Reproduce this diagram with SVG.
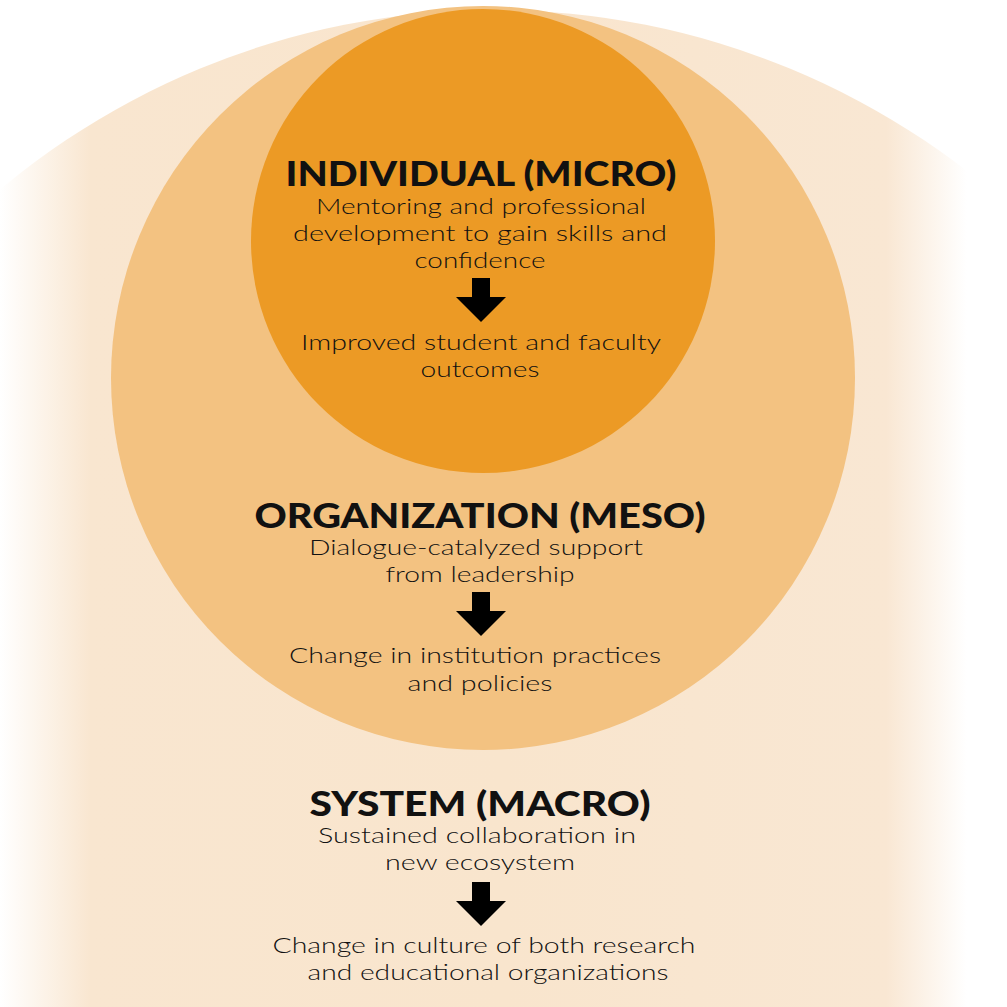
<svg xmlns="http://www.w3.org/2000/svg" width="1007" height="1007" viewBox="0 0 1007 1007">
<defs>
<linearGradient id="fade" gradientUnits="userSpaceOnUse" x1="0" y1="0" x2="1007" y2="0">
<stop offset="0" stop-color="#ffffff"/>
<stop offset="0.09" stop-color="#f9e6d0"/>
<stop offset="0.5" stop-color="#f9e5cd"/>
<stop offset="0.88" stop-color="#f9e7d3"/>
<stop offset="0.96" stop-color="#ffffff"/>
</linearGradient>
<path id="arrow" d="M-9,0 H9 V19 H25 L0,44 L-25,19 H-9 Z" fill="#000"/>
<style>
.t{font-family:"Lato","Liberation Sans",sans-serif;font-weight:900;font-size:35px;fill:#111;text-anchor:middle}
.b{font-family:"Lato","Liberation Sans",sans-serif;font-weight:300;font-size:22px;fill:#111;text-anchor:middle}
</style>
</defs>
<rect width="1007" height="1007" fill="#ffffff"/>
<g id="system">
<circle cx="495" cy="782" r="772" fill="url(#fade)"/>
</g>
<g id="organization">
<circle cx="483" cy="378" r="372" fill="#f3c281"/>
</g>
<g id="individual">
<circle cx="483" cy="241" r="232" fill="#ec9a25"/>
</g>
<g id="connectors">
<use href="#arrow" x="481" y="278"/>
<use href="#arrow" x="481" y="592"/>
<use href="#arrow" x="481" y="882"/>
</g>
<g id="individual-text">
<text class="t" x="481" y="186" textLength="391" lengthAdjust="spacingAndGlyphs">INDIVIDUAL (MICRO)</text>
<text class="b" x="481" y="214" textLength="330" lengthAdjust="spacingAndGlyphs">Mentoring and professional</text>
<text class="b" x="480" y="241" textLength="374" lengthAdjust="spacingAndGlyphs">development to gain skills and</text>
<text class="b" x="480" y="268" textLength="131" lengthAdjust="spacingAndGlyphs">confidence</text>
<text class="b" x="481" y="350" textLength="360" lengthAdjust="spacingAndGlyphs">Improved student and faculty</text>
<text class="b" x="480" y="377" textLength="119" lengthAdjust="spacingAndGlyphs">outcomes</text>
</g>
<g id="organization-text">
<text class="t" x="480" y="528" textLength="451" lengthAdjust="spacingAndGlyphs">ORGANIZATION (MESO)</text>
<text class="b" x="476" y="555" textLength="334" lengthAdjust="spacingAndGlyphs">Dialogue-catalyzed support</text>
<text class="b" x="480" y="582" textLength="189" lengthAdjust="spacingAndGlyphs">from leadership</text>
<text class="b" x="475" y="663" textLength="372" lengthAdjust="spacingAndGlyphs">Change in institution practices</text>
<text class="b" x="480" y="691" textLength="145" lengthAdjust="spacingAndGlyphs">and policies</text>
</g>
<g id="system-text">
<text class="t" x="480" y="816" textLength="341" lengthAdjust="spacingAndGlyphs">SYSTEM (MACRO)</text>
<text class="b" x="477" y="843" textLength="318" lengthAdjust="spacingAndGlyphs">Sustained collaboration in</text>
<text class="b" x="480" y="870" textLength="190" lengthAdjust="spacingAndGlyphs">new ecosystem</text>
<text class="b" x="484" y="953" textLength="423" lengthAdjust="spacingAndGlyphs">Change in culture of both research</text>
<text class="b" x="488" y="980" textLength="361" lengthAdjust="spacingAndGlyphs">and educational organizations</text>
</g>
</svg>
